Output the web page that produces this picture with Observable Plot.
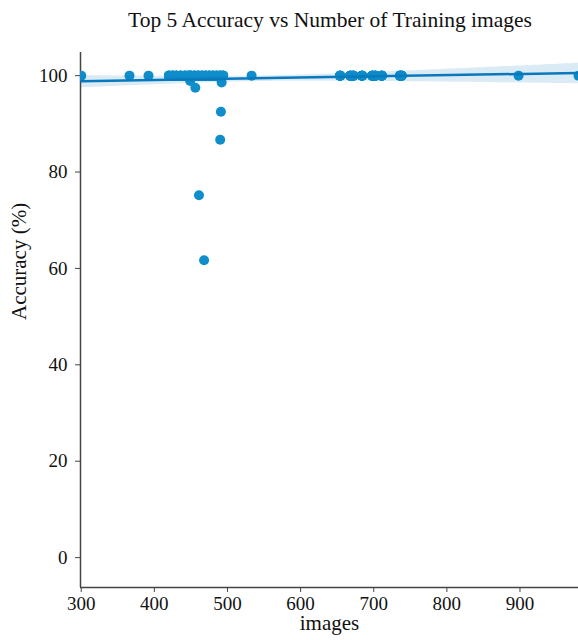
<!DOCTYPE html>
<html><head><meta charset="utf-8">
<script src="https://cdn.jsdelivr.net/npm/d3@7"></script>
<script src="https://cdn.jsdelivr.net/npm/@observablehq/plot@0.6"></script>
<style>
body{margin:0;background:#fff;font-family:"Liberation Serif",serif;}
#title{width:578px;height:40px;box-sizing:border-box;padding-left:82px;text-align:center;font-size:21.5px;line-height:40px;color:#111;}
</style></head><body>
<div id="title">Top 5 Accuracy vs Number of Training images</div>
<div id="chart"></div>
<script>
// Number of training images per class, top-5 accuracy (%), and how many classes share that point
const images   = [300, 366, 392, 420, 425, 430, 436, 442, 447, 450, 455, 460, 465, 470, 475, 480, 485, 490, 494,
                  449, 456, 461, 468, 490, 491, 492,
                  533, 654, 668, 672, 684, 698, 702, 711, 736, 738, 898, 980];
const accuracy = [100, 100, 100, 100, 100, 100, 100, 100, 100, 100, 100, 100, 100, 100, 100, 100, 100, 100, 100,
                  98.9, 97.5, 75.2, 61.7, 86.7, 92.5, 98.6,
                  100, 100, 100, 100, 100, 100, 100, 100, 100, 100, 100, 100];
const classCount = [1, 1, 1, 6, 6, 6, 6, 6, 6, 6, 6, 6, 6, 6, 6, 6, 6, 6, 6,
                  1, 1, 1, 1, 1, 1, 1,
                  1, 6, 6, 6, 6, 6, 6, 6, 6, 6, 1, 1];
const xTicks = [300, 400, 500, 600, 700, 800, 900];
const yTicks = [0, 20, 40, 60, 80, 100];
const xDomain = [299, 980];
const yDomain = [-6.2, 104.8];

const data = [];
images.forEach((v, i) => { for (let k = 0; k < classCount[i]; k++) data.push({images: v, accuracy: accuracy[i]}); });

const dotColor = "#0f8ecb";
const lineColor = "#0a78bd";
const axisColor = "#444";
const font = "Liberation Serif";

const chart = Plot.plot({
  width: 578, height: 600,
  marginLeft: 80, marginRight: 0, marginTop: 12, marginBottom: 53,
  style: {fontFamily: font, fontSize: "19px", color: "#111", background: "#fff"},
  x: {domain: xDomain, label: null},
  y: {domain: yDomain, label: null},
  marks: [
    Plot.axisX({ticks: xTicks, tickSize: 5, tickPadding: 4, stroke: axisColor, fontSize: 19, label: null}),
    Plot.axisY({ticks: yTicks, tickSize: 5, tickPadding: 8, stroke: axisColor, fontSize: 19, label: null}),
    Plot.ruleX([xDomain[0]], {stroke: axisColor, strokeWidth: 1.5}),
    Plot.ruleY([yDomain[0]], {stroke: axisColor, strokeWidth: 1.5}),
    Plot.dot(data, {x: "images", y: "accuracy", r: 5, fill: dotColor, stroke: null, clip: true}),
    Plot.linearRegressionY(data, {x: "images", y: "accuracy", stroke: lineColor, strokeWidth: 2.5, fill: lineColor, fillOpacity: 0.15, clip: true}),
    Plot.text(["images"], {frameAnchor: "bottom", dy: 42, fontSize: 21, fill: "#111"}),
    Plot.text(["Accuracy (%)"], {frameAnchor: "left", rotate: -90, dx: -61, fontSize: 21, fill: "#111"})
  ]
});
document.getElementById("chart").appendChild(chart);
</script>
</body></html>
